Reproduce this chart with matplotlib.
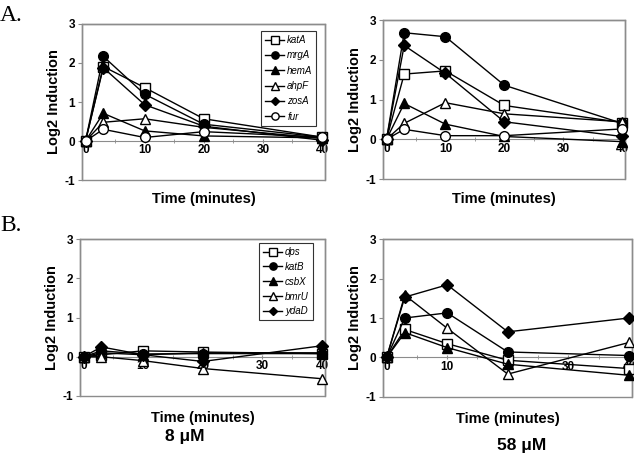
import matplotlib
matplotlib.use("Agg")
import matplotlib.pyplot as plt
from matplotlib.patches import Rectangle

plt.rcParams["font.family"] = ["Liberation Sans", "DejaVu Sans"]
plt.rcParams["axes.unicode_minus"] = False

# sampling times (minutes)
times = [0, 3, 10, 20, 40]

# panel A, 8 uM
a_labels = ["katA", "mrgA", "hemA", "ahpF", "zosA", "fur"]
a_8 = [
    [0, 1.91, 1.37, 0.57, 0.10],
    [0, 2.17, 1.20, 0.43, 0.10],
    [0, 0.71, 0.26, 0.13, 0.08],
    [0, 0.48, 0.57, 0.35, 0.07],
    [0, 1.88, 0.93, 0.38, 0.02],
    [0, 0.30, 0.09, 0.24, 0.10],
]
# panel A, 58 uM
a_58 = [
    [0, 1.64, 1.72, 0.85, 0.42],
    [0, 2.68, 2.58, 1.36, 0.40],
    [0, 0.90, 0.38, 0.07, -0.06],
    [0, 0.40, 0.92, 0.64, 0.44],
    [0, 2.36, 1.66, 0.44, 0.07],
    [0, 0.25, 0.09, 0.09, 0.26],
]

# panel B, 8 uM
b_labels = ["dps", "katB", "csbX", "bmrU", "ydaD"]
b_8 = [
    [0, 0.05, 0.15, 0.12, 0.08],
    [0, 0.15, 0.07, 0.08, 0.08],
    [0, 0.10, 0.05, 0.10, 0.10],
    [0, 0.00, -0.10, -0.30, -0.56],
    [0, 0.25, 0.05, -0.12, 0.28],
]
# panel B, 58 uM
b_58 = [
    [0, 0.71, 0.35, -0.07, -0.28],
    [0, 1.00, 1.13, 0.14, 0.05],
    [0, 0.63, 0.25, -0.17, -0.45],
    [0, 1.58, 0.74, -0.42, 0.38],
    [0, 1.53, 1.84, 0.65, 1.00],
]

# marker style per gene (marker, filled)
a_styles = [("s", False), ("o", True), ("^", True), ("^", False), ("D", True), ("o", False)]
b_styles = [("s", False), ("o", True), ("^", True), ("^", False), ("D", True)]

GRAY = "#8c8c8c"


def draw_panel(ax, series, labels, styles, xlab_y, legend_kw=None):
    for vals, lab, (mk, filled) in zip(series, labels, styles):
        ms = 6.0 if mk == "D" else 7.0
        ax.plot(times, vals, color="black", lw=1.0, marker=mk, ms=ms,
                mfc="black" if filled else "white", mec="black", mew=1.0,
                label=lab, clip_on=False, zorder=3)
    ax.set_xlim(-0.6, 40.5)
    ax.set_ylim(-1, 3)
    ax.set_yticks([-1, 0, 1, 2, 3])
    ax.set_xticks([0, 10, 20, 30, 40])
    ax.set_xticks([5, 15, 25, 35], minor=True)
    for side in ["top", "right", "left"]:
        ax.spines[side].set_color(GRAY)
        ax.spines[side].set_linewidth(1.0)
    ax.spines["bottom"].set_position(("data", 0))
    ax.spines["bottom"].set_color(GRAY)
    ax.add_patch(Rectangle((0, 0), 1, 1, transform=ax.transAxes, fill=False,
                           edgecolor=GRAY, lw=1.0, clip_on=False, zorder=1))
    ax.tick_params(axis="y", direction="out", length=3, color=GRAY, pad=2)
    ax.tick_params(axis="x", which="both", direction="inout", length=3, color=GRAY, pad=1)
    for t in ax.get_xticklabels() + ax.get_yticklabels():
        t.set_fontweight("bold")
        t.set_fontsize(8.5)
    ax.set_ylabel("Log2 Induction", fontsize=10.5, fontweight="bold")
    ax.yaxis.set_label_coords(-0.085, 0.5)
    ax.set_xlabel("Time (minutes)", fontsize=10.5, fontweight="bold")
    ax.xaxis.set_label_coords(0.5, xlab_y)
    if legend_kw is not None:
        leg = ax.legend(prop={"style": "italic", "size": 7},
                        frameon=True, fancybox=False, edgecolor="black",
                        handlelength=2.0, handletextpad=0.3, borderpad=0.4,
                        markerscale=0.75, **legend_kw)
        leg.get_frame().set_linewidth(0.8)


fig = plt.figure(figsize=(6.34, 4.57), dpi=100)

ax1 = fig.add_axes([0.1293, 0.6061, 0.3833, 0.3414])
ax2 = fig.add_axes([0.6041, 0.6083, 0.3817, 0.3479])
ax3 = fig.add_axes([0.1262, 0.1335, 0.3864, 0.3435])
ax4 = fig.add_axes([0.6041, 0.1313, 0.3927, 0.3457])

draw_panel(ax1, a_8, a_labels, a_styles, -0.08,
           legend_kw=dict(loc="upper right", bbox_to_anchor=(0.985, 0.985), labelspacing=0.55))
draw_panel(ax2, a_58, a_labels, a_styles, -0.08)
draw_panel(ax3, b_8, b_labels, b_styles, -0.095,
           legend_kw=dict(loc="upper right", bbox_to_anchor=(0.97, 1.005), labelspacing=0.5))
draw_panel(ax4, b_58, b_labels, b_styles, -0.095)

fig.text(0.0, 0.99, "A.", fontsize=17, family=["Liberation Serif", "DejaVu Serif"], va="top")
fig.text(0.0, 0.53, "B.", fontsize=17, family=["Liberation Serif", "DejaVu Serif"], va="top")
fig.text(0.292, 0.044, "8 \u03bcM", fontsize=12.5, fontweight="bold", ha="center", va="center")
fig.text(0.823, 0.026, "58 \u03bcM", fontsize=12.5, fontweight="bold", ha="center", va="center")

fig.savefig("out.png", dpi=100)
